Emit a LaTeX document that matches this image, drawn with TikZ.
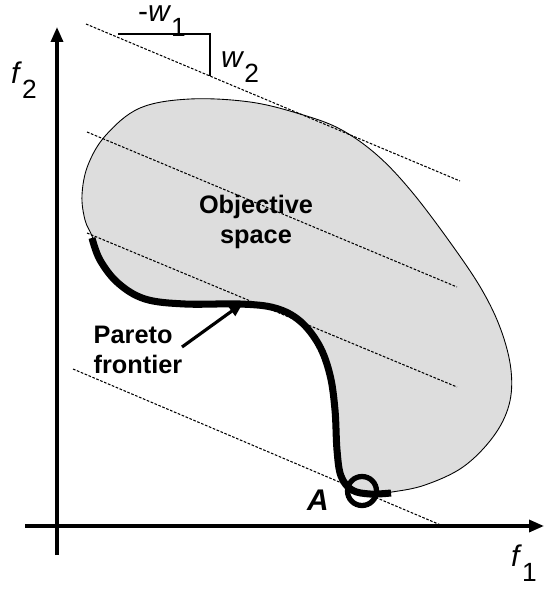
\documentclass[tikz,border=0pt]{standalone}
\usepackage{fontspec}
\setmainfont{Liberation Sans}
\usepackage{tikz}
\usetikzlibrary{arrows.meta}
\definecolor{spacegray}{gray}{0.865}
\newcommand{\lowsub}[1]{\raisebox{-0.5em}{\fontsize{15}{16}\selectfont #1}}

\begin{document}
\begin{tikzpicture}[x=0.02cm, y=-0.02cm, >={Triangle[length=3mm, width=2.4mm]},
  font=\fontsize{14.4}{16}\selectfont,
  axis/.style={line width=1.9pt, ->},
  iso/.style={line width=0.6pt, dash pattern=on 1.5pt off 0.9pt},
  front/.style={line width=4pt, line cap=butt},
  lbl/.style={inner sep=0pt},
  sym/.style={inner sep=0pt, font=\fontsize{17}{18}\selectfont}]
\useasboundingbox (0,0) rectangle (544,592);
% objective space
\draw[fill=spacegray, line width=0.5pt] plot[smooth cycle, tension=0.6] coordinates {
  (92,236) (100,260) (118,283) (145,299) (185,304) (240,304) (275,308) (300,321)
  (319,345) (330,375) (335,410) (337,450) (341,476) (352,490) (370,494) (392,492)
  (425,485) (463,467) (493,437) (509,405) (511,370) (501,330) (482,290) (452,245)
  (412,192) (377,155) (340,129) (300,114) (250,102) (190,99) (140,108) (106,135)
  (88,165) (82,195) (85,220)};
\node[lbl, align=center] (obj) at (256,222) {\textbf{Objective}\\[1pt]\textbf{space}};
% lines of equal weighted sum
\coordinate (l1a) at (86,24);  \coordinate (l1b) at (460,181);
\coordinate (l2a) at (87,132); \coordinate (l2b) at (457,287);
\coordinate (l3a) at (87,233); \coordinate (l3b) at (457,387);
\coordinate (l4a) at (73,369); \coordinate (l4b) at (443,526);
\draw[iso] (l1a) -- (l1b);
\draw[iso] (l2a) -- (l2b);
\draw[iso] (l3a) -- (l3b);
\draw[iso] (l4a) -- (l4b);
% slope triangle
\coordinate (tl) at (118,34);
\coordinate (tc) at (210,34);
\coordinate (tb) at (210,76);
\draw[line width=0.8pt] (tl) -- (tc) -- (tb);
\node[sym] (w1) at (162,21) {-\textit{w}\lowsub{1}};
\node[sym] (w2) at (240,67) {\textit{w}\lowsub{2}};
% pareto frontier
\draw[front] plot[smooth, tension=0.6] coordinates {
  (92,238) (100,260) (118,283) (145,299) (185,304) (240,304) (275,308) (300,321)
  (319,345) (330,375) (335,410) (337,450) (341,476) (352,490) (370,494) (391,493)};
\node[circle, draw, line width=3pt, minimum size=0.58cm, inner sep=0pt] (A) at (362,491) {};
\node[sym] (Alab) at (318,500) {\textbf{\textit{A}}};
\node[lbl, align=left] (par) at (138,350) {\textbf{Pareto}\\[1pt]\textbf{frontier}};
\coordinate (ptip) at (243,303);
\draw[line width=1.8pt, -{Triangle[length=2.8mm, width=2.3mm]}] (182,347) -- (ptip);
% axes
\coordinate (xs) at (25,526);  \coordinate (xe) at (544,526);
\coordinate (ys) at (57,555);  \coordinate (ye) at (57,27);
\draw[axis] (xs) -- (xe);
\draw[axis] (ys) -- (ye);
\node[sym] (f1) at (524,563) {\textit{f}\lowsub{1}};
\node[sym] (f2) at (24,80) {\textit{f}\lowsub{2}};
\end{tikzpicture}
\end{document}
